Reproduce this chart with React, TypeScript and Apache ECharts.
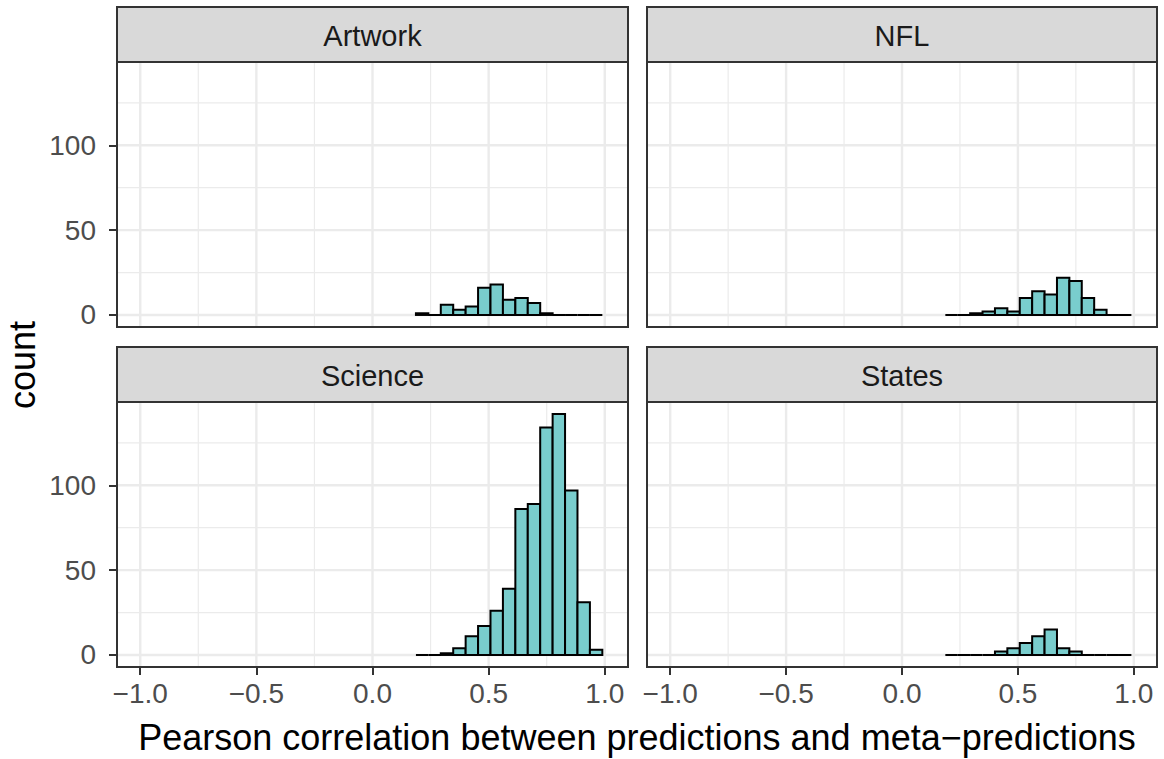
import { useEffect, useRef } from "react";
import * as echarts from "echarts";

// Facet names, in reading order (top-left, top-right, bottom-left, bottom-right)
const PANELS = ["Artwork", "NFL", "Science", "States"];

// Histogram bins shared by all facets
const BIN_START = 0.187;
const BIN_WIDTH = 0.0535;

// Counts per bin for each facet
const ARTWORK_COUNTS = [1, 0, 6, 3, 5, 16, 18, 9, 10, 7, 1, 0, 0, 0, 0];
const NFL_COUNTS = [0, 0, 1, 2, 4, 2, 10, 14, 12, 22, 20, 10, 3, 0, 0];
const SCIENCE_COUNTS = [0, 0, 1, 4, 11, 17, 26, 39, 86, 89, 134, 142, 97, 31, 3];
const STATES_COUNTS = [0, 0, 0, 0, 2, 4, 7, 11, 15, 4, 2, 0, 0, 0, 0];
const COUNTS = [ARTWORK_COUNTS, NFL_COUNTS, SCIENCE_COUNTS, STATES_COUNTS];

// Axis breaks
const X_TICKS = [-1, -0.5, 0, 0.5, 1];
const X_MINOR = [-0.75, -0.25, 0.25, 0.75];
const Y_TICKS = [0, 50, 100];
const Y_MINOR = [25, 75, 125];

const X_TITLE = "Pearson correlation between predictions and meta\u2212predictions";
const Y_TITLE = "count";

const FONT = '"Liberation Sans", Arial, Helvetica, sans-serif';

// x limits -1..1 with 5% expansion; y from 0..max count with 5% expansion
const X_MIN = -1.1;
const X_MAX = 1.1;
const Y_TOP = Math.max(...COUNTS.flat());
const Y_MIN = -0.05 * Y_TOP;
const Y_MAX = Y_TOP * 1.05;

// Panel geometry
const COLS = [
  { left: 117, width: 511 },
  { left: 647, width: 510 },
];
const ROWS = [
  { top: 62, height: 265, stripTop: 7 },
  { top: 402, height: 265, stripTop: 347 },
];

const fmtX = (v: number) => {
  const s = Math.abs(v).toFixed(1);
  return v < 0 ? "\u2212" + s : s;
};

export default function App() {
  const ref = useRef<HTMLDivElement>(null);

  useEffect(() => {
    if (!ref.current) return;
    const chart = echarts.init(ref.current, undefined, { renderer: "svg" });

    const grids: any[] = [];
    const xAxes: any[] = [];
    const yAxes: any[] = [];
    const series: any[] = [];
    const graphics: any[] = [];

    PANELS.forEach((name, i) => {
      const row = Math.floor(i / 2);
      const col = i % 2;
      const { left, width } = COLS[col];
      const { top, height, stripTop } = ROWS[row];

      grids.push({ left, top, width, height, containLabel: false });

      xAxes.push({
        type: "value",
        gridIndex: i,
        position: "bottom",
        min: X_MIN,
        max: X_MAX,
        axisLine: { show: false, onZero: false },
        splitLine: { show: false },
        axisTick: {
          show: row === 1,
          customValues: X_TICKS,
          length: 8,
          lineStyle: { color: "#333333", width: 2 },
        },
        axisLabel: {
          show: row === 1,
          customValues: X_TICKS,
          margin: 12,
          formatter: fmtX,
          color: "#4D4D4D",
          fontSize: 28,
          fontFamily: FONT,
        },
      });

      yAxes.push({
        type: "value",
        gridIndex: i,
        position: "left",
        min: Y_MIN,
        max: Y_MAX,
        axisLine: { show: false, onZero: false },
        splitLine: { show: false },
        axisTick: {
          show: col === 0,
          customValues: Y_TICKS,
          length: 8,
          lineStyle: { color: "#333333", width: 2 },
        },
        axisLabel: {
          show: col === 0,
          customValues: Y_TICKS,
          margin: 21,
          formatter: (v: number) => String(v),
          color: "#4D4D4D",
          fontSize: 28,
          fontFamily: FONT,
        },
      });

      // background grid lines: [direction, value, isMajor]
      const lines = [
        ...X_TICKS.map((v) => [0, v, 1]),
        ...X_MINOR.map((v) => [0, v, 0]),
        ...Y_TICKS.map((v) => [1, v, 1]),
        ...Y_MINOR.map((v) => [1, v, 0]),
      ];
      series.push({
        type: "custom",
        xAxisIndex: i,
        yAxisIndex: i,
        silent: true,
        z: 1,
        data: lines,
        renderItem: (_p: any, api: any) => {
          const dir = api.value(0);
          const v = api.value(1);
          const major = api.value(2);
          const a = dir === 0 ? api.coord([v, Y_MIN]) : api.coord([X_MIN, v]);
          const b = dir === 0 ? api.coord([v, Y_MAX]) : api.coord([X_MAX, v]);
          return {
            type: "line",
            shape: { x1: a[0], y1: a[1], x2: b[0], y2: b[1] },
            style: { stroke: "#EBEBEB", lineWidth: major ? 2.4 : 1.2 },
          };
        },
      });

      // histogram bars: [binStart, binEnd, count]
      const bins = COUNTS[i].map((c, k) => [
        BIN_START + k * BIN_WIDTH,
        BIN_START + (k + 1) * BIN_WIDTH,
        c,
      ]);
      series.push({
        type: "custom",
        xAxisIndex: i,
        yAxisIndex: i,
        silent: true,
        z: 3,
        encode: { x: [0, 1], y: 2 },
        data: bins,
        renderItem: (_p: any, api: any) => {
          const p0 = api.coord([api.value(0), 0]);
          const p1 = api.coord([api.value(1), api.value(2)]);
          return {
            type: "rect",
            shape: { x: p0[0], y: p1[1], width: p1[0] - p0[0], height: p0[1] - p1[1] },
            style: { fill: "#79CDCD", stroke: "#000000", lineWidth: 2 },
          };
        },
      });

      // facet strip
      graphics.push({
        type: "rect",
        z: 50,
        shape: { x: left, y: stripTop, width, height: top - stripTop },
        style: { fill: "#D9D9D9", stroke: "#333333", lineWidth: 2 },
      });
      graphics.push({
        type: "text",
        z: 51,
        x: left + width / 2,
        y: (stripTop + top) / 2 + 1,
        style: {
          text: name,
          fill: "#1A1A1A",
          fontSize: 29,
          fontFamily: FONT,
          align: "center",
          verticalAlign: "middle",
        },
      });
      // panel border
      graphics.push({
        type: "rect",
        z: 60,
        shape: { x: left, y: top, width, height },
        style: { fill: "transparent", stroke: "#333333", lineWidth: 2 },
      });
    });

    graphics.push({
      type: "text",
      z: 51,
      x: 637,
      y: 737,
      style: {
        text: X_TITLE,
        fill: "#000000",
        fontSize: 36,
        fontFamily: FONT,
        align: "center",
        verticalAlign: "middle",
      },
    });
    graphics.push({
      type: "text",
      z: 51,
      x: 22,
      y: 365,
      rotation: Math.PI / 2,
      style: {
        text: Y_TITLE,
        fill: "#000000",
        fontSize: 36,
        fontFamily: FONT,
        align: "center",
        verticalAlign: "middle",
      },
    });

    chart.setOption({
      animation: false,
      backgroundColor: "#FFFFFF",
      grid: grids,
      xAxis: xAxes,
      yAxis: yAxes,
      series,
      graphic: { elements: graphics },
    });

    return () => chart.dispose();
  }, []);

  return (
    <div
      ref={ref}
      style={{ position: "fixed", left: 0, top: 0, width: 1164, height: 759 }}
    />
  );
}
